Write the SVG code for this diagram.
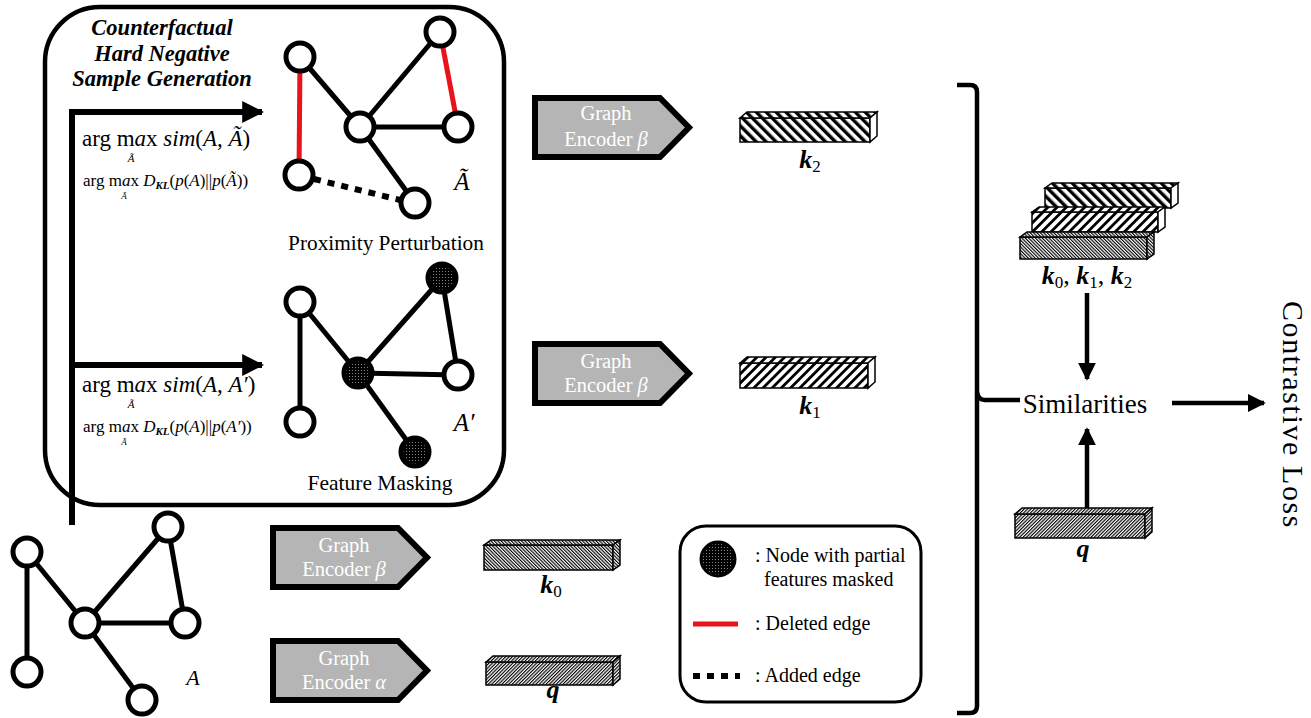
<svg xmlns="http://www.w3.org/2000/svg" width="1311" height="718" viewBox="0 0 1311 718">
  <style>
    .serif { font-family: "Liberation Serif", "Times New Roman", serif; }
    .edge { stroke: #000; stroke-width: 5; fill: none; }
    .del { stroke: #e8141a; stroke-width: 5; fill: none; }
    .add { stroke: #000; stroke-width: 6; stroke-dasharray: 7 7; fill: none; }
    .node { fill: #fff; stroke: #000; stroke-width: 5; }
    .mnode { fill: url(#dots); stroke: #000; stroke-width: 5; }
    .enc { fill: #b5b5b5; stroke: #000; stroke-width: 6; stroke-linejoin: miter; }
    .enct { font-family: "Liberation Serif", "Times New Roman", serif; font-size: 20.5px; fill: #fff; text-anchor: middle; }
    .bar { stroke: #000; stroke-width: 1.5; }
    .lbl { font-family: "Liberation Serif", "Times New Roman", serif; font-style: italic; font-weight: bold; font-size: 26px; text-anchor: middle; }
    .sub { font-style: normal; font-weight: normal; font-size: 17px; }
    .conn { stroke: #000; stroke-width: 6; fill: none; }
    .conn2 { stroke: #000; stroke-width: 4.5; fill: none; }
  </style>
  <defs>
    <pattern id="dots" patternUnits="userSpaceOnUse" width="3" height="3">
      <rect width="3" height="3" fill="#000"/>
      <circle cx="1.5" cy="1.5" r="0.55" fill="#9a9a9a"/>
    </pattern>
    <!-- coarse back-slash hatch -->
    <pattern id="hK2" patternUnits="userSpaceOnUse" width="7" height="7" patternTransform="rotate(-45)">
      <rect width="7" height="7" fill="#fff"/>
      <rect width="3.4" height="7" fill="#000"/>
    </pattern>
    <!-- coarse forward-slash hatch -->
    <pattern id="hK1" patternUnits="userSpaceOnUse" width="6.5" height="6.5" patternTransform="rotate(45)">
      <rect width="6.5" height="6.5" fill="#fff"/>
      <rect width="2.8" height="6.5" fill="#000"/>
    </pattern>
    <!-- fine back-slash hatch -->
    <pattern id="hK0" patternUnits="userSpaceOnUse" width="2.4" height="2.4" patternTransform="rotate(-45)">
      <rect width="2.4" height="2.4" fill="#fff"/>
      <rect width="1.15" height="2.4" fill="#000"/>
    </pattern>
    <!-- fine forward-slash hatch -->
    <pattern id="hQ" patternUnits="userSpaceOnUse" width="2.4" height="2.4" patternTransform="rotate(45)">
      <rect width="2.4" height="2.4" fill="#fff"/>
      <rect width="1.15" height="2.4" fill="#000"/>
    </pattern>
    <marker id="ah" viewBox="0 0 10 10" refX="9" refY="5" markerUnits="userSpaceOnUse" markerWidth="22" markerHeight="22" orient="auto">
      <path d="M0,0 L10,5 L0,10 Z" fill="#000"/>
    </marker>
    <marker id="ah2" viewBox="0 0 10 10" refX="9" refY="5" markerUnits="userSpaceOnUse" markerWidth="18" markerHeight="20" orient="auto">
      <path d="M0,0 L10,5 L0,10 Z" fill="#000"/>
    </marker>
    <path id="encShape" d="M3,3 H128 L157,32.5 L128,62 H3 Z"/>
  </defs>

  <rect width="1311" height="718" fill="#fff"/>

  <!-- generation panel -->
  <g id="generation-panel">
    <rect x="45" y="7" width="459" height="498" rx="55" ry="55" fill="none" stroke="#000" stroke-width="4.5"/>
    <text class="serif" x="162" y="35" font-size="22.5" font-weight="bold" font-style="italic" text-anchor="middle">Counterfactual</text>
    <text class="serif" x="162" y="61" font-size="22.5" font-weight="bold" font-style="italic" text-anchor="middle">Hard Negative</text>
    <text class="serif" x="162" y="86" font-size="22.5" font-weight="bold" font-style="italic" text-anchor="middle">Sample Generation</text>

    <!-- objective for proximity perturbation -->
    <text class="serif" x="82" y="146" font-size="23">arg m<tspan font-style="italic">a</tspan>x <tspan font-style="italic">sim</tspan>(<tspan font-style="italic">A</tspan>, <tspan font-style="italic">Ã</tspan>)</text>
    <text class="serif" x="131" y="162" font-size="11" font-style="italic" text-anchor="middle">Ã</text>
    <text class="serif" x="83" y="186" font-size="17">arg m<tspan font-style="italic">a</tspan>x <tspan font-style="italic">D</tspan><tspan font-size="11" font-weight="bold" font-style="italic" dy="3">KL</tspan><tspan dy="-3">(</tspan><tspan font-style="italic">p</tspan>(<tspan font-style="italic">A</tspan>)||<tspan font-style="italic">p</tspan>(<tspan font-style="italic">Ã</tspan>))</text>
    <text class="serif" x="124" y="199" font-size="9" font-style="italic" text-anchor="middle">Ã</text>

    <!-- objective for feature masking -->
    <text class="serif" x="82" y="392" font-size="23">arg m<tspan font-style="italic">a</tspan>x <tspan font-style="italic">sim</tspan>(<tspan font-style="italic">A</tspan>, <tspan font-style="italic">A′</tspan>)</text>
    <text class="serif" x="131" y="408" font-size="11" font-style="italic" text-anchor="middle">Ã</text>
    <text class="serif" x="83" y="432" font-size="17">arg m<tspan font-style="italic">a</tspan>x <tspan font-style="italic">D</tspan><tspan font-size="11" font-weight="bold" font-style="italic" dy="3">KL</tspan><tspan dy="-3">(</tspan><tspan font-style="italic">p</tspan>(<tspan font-style="italic">A</tspan>)||<tspan font-style="italic">p</tspan>(<tspan font-style="italic">A′</tspan>))</text>
    <text class="serif" x="124" y="445" font-size="9" font-style="italic" text-anchor="middle">Ã</text>
  </g>

  <!-- perturbed graph Ã -->
  <g id="graph-proximity">
    <line class="edge" x1="300" y1="57" x2="360" y2="127"/>
    <line class="edge" x1="360" y1="127" x2="440" y2="32"/>
    <line class="edge" x1="360" y1="127" x2="458" y2="127"/>
    <line class="edge" x1="360" y1="127" x2="415" y2="203"/>
    <line class="del" x1="300" y1="57" x2="299" y2="175"/>
    <line class="del" x1="440" y1="32" x2="458" y2="127"/>
    <line class="add" x1="314" y1="179" x2="400" y2="200"/>
    <circle class="node" cx="300" cy="57" r="14"/>
    <circle class="node" cx="440" cy="32" r="14"/>
    <circle class="node" cx="360" cy="127" r="14"/>
    <circle class="node" cx="458" cy="127" r="14"/>
    <circle class="node" cx="299" cy="175" r="14"/>
    <circle class="node" cx="415" cy="203" r="14"/>
    <text class="serif" x="462" y="190" font-size="25" font-style="italic" text-anchor="middle">Ã</text>
    <text class="serif" x="386" y="250" font-size="21.3" text-anchor="middle">Proximity Perturbation</text>
  </g>

  <!-- masked graph A′ -->
  <g id="graph-masking">
    <line class="edge" x1="300" y1="302" x2="300" y2="422"/>
    <line class="edge" x1="300" y1="302" x2="358" y2="373"/>
    <line class="edge" x1="358" y1="373" x2="442" y2="278"/>
    <line class="edge" x1="442" y1="278" x2="458" y2="375"/>
    <line class="edge" x1="358" y1="373" x2="458" y2="375"/>
    <line class="edge" x1="358" y1="373" x2="415" y2="452"/>
    <circle class="node" cx="300" cy="302" r="14"/>
    <circle class="mnode" cx="442" cy="278" r="14"/>
    <circle class="mnode" cx="358" cy="373" r="14"/>
    <circle class="node" cx="458" cy="375" r="14"/>
    <circle class="node" cx="300" cy="422" r="14"/>
    <circle class="mnode" cx="415" cy="452" r="14"/>
    <text class="serif" x="464" y="431" font-size="25" font-style="italic" text-anchor="middle">A′</text>
    <text class="serif" x="380" y="490" font-size="21.5" text-anchor="middle">Feature Masking</text>
  </g>

  <!-- input graph A -->
  <g id="graph-input">
    <line class="edge" x1="27" y1="552" x2="27" y2="672"/>
    <line class="edge" x1="27" y1="552" x2="85" y2="623"/>
    <line class="edge" x1="85" y1="623" x2="168" y2="527"/>
    <line class="edge" x1="168" y1="527" x2="185" y2="623"/>
    <line class="edge" x1="85" y1="623" x2="185" y2="623"/>
    <line class="edge" x1="85" y1="623" x2="142" y2="700"/>
    <circle class="node" cx="27" cy="552" r="14"/>
    <circle class="node" cx="168" cy="527" r="14"/>
    <circle class="node" cx="85" cy="623" r="14"/>
    <circle class="node" cx="185" cy="623" r="14"/>
    <circle class="node" cx="27" cy="672" r="14"/>
    <circle class="node" cx="142" cy="700" r="14"/>
    <text class="serif" x="193" y="685" font-size="22" font-style="italic" text-anchor="middle">A</text>
  </g>

  <!-- encoders -->
  <g id="encoder-k2" transform="translate(532,95)">
    <use href="#encShape" class="enc"/>
    <text class="enct" x="74" y="25">Graph</text>
    <text class="enct" x="74" y="51">Encoder <tspan font-style="italic">β</tspan></text>
  </g>
  <g id="encoder-k1" transform="translate(532,341)">
    <use href="#encShape" class="enc"/>
    <text class="enct" x="74" y="27">Graph</text>
    <text class="enct" x="74" y="51">Encoder <tspan font-style="italic">β</tspan></text>
  </g>
  <g id="encoder-k0" transform="translate(270,525)">
    <use href="#encShape" class="enc"/>
    <text class="enct" x="74" y="27">Graph</text>
    <text class="enct" x="74" y="51">Encoder <tspan font-style="italic">β</tspan></text>
  </g>
  <g id="encoder-q" transform="translate(270,638)">
    <use href="#encShape" class="enc"/>
    <text class="enct" x="74" y="27">Graph</text>
    <text class="enct" x="74" y="51">Encoder <tspan font-style="italic">α</tspan></text>
  </g>

  <!-- embeddings -->
  <g id="emb-k2" transform="translate(740,118)">
    <rect class="bar" width="130" height="24" fill="url(#hK2)"/>
    <path class="bar" d="M0,0 L7,-6 H137 L130,0 Z" fill="url(#hK2)"/>
    <path class="bar" d="M130,0 L137,-6 V18 L130,24 Z" fill="#fff"/>
    <text class="lbl" x="70" y="50">k<tspan class="sub" dy="4">2</tspan></text>
  </g>
  <g id="emb-k1" transform="translate(740,363)">
    <rect class="bar" width="128" height="25" fill="url(#hK1)"/>
    <path class="bar" d="M0,0 L7,-6 H135 L128,0 Z" fill="url(#hK1)"/>
    <path class="bar" d="M128,0 L135,-6 V19 L128,25 Z" fill="#fff"/>
    <text class="lbl" x="70" y="51">k<tspan class="sub" dy="4">1</tspan></text>
  </g>
  <g id="emb-k0" transform="translate(484,545)">
    <rect class="bar" width="129" height="25" fill="url(#hK0)"/>
    <path class="bar" d="M0,0 L7,-5 H136 L129,0 Z" fill="url(#hK0)"/>
    <path class="bar" d="M129,0 L136,-5 V20 L129,25 Z" fill="url(#hK0)"/>
    <text class="lbl" x="67" y="48">k<tspan class="sub" dy="4">0</tspan></text>
  </g>
  <g id="emb-q" transform="translate(486,662)">
    <rect class="bar" width="127" height="23" fill="url(#hQ)"/>
    <path class="bar" d="M0,0 L7,-6 H134 L127,0 Z" fill="url(#hQ)"/>
    <path class="bar" d="M127,0 L134,-6 V17 L127,23 Z" fill="url(#hQ)"/>
    <text class="lbl" x="67" y="36">q</text>
  </g>

  <!-- stacked keys -->
  <g id="emb-keys">
    <g transform="translate(1045,188)">
      <rect class="bar" width="126" height="20" fill="url(#hK2)"/>
      <path class="bar" d="M0,0 L7,-5 H133 L126,0 Z" fill="url(#hK2)"/>
      <path class="bar" d="M126,0 L133,-5 V15 L126,20 Z" fill="#fff"/>
    </g>
    <g transform="translate(1032,212)">
      <rect class="bar" width="126" height="20" fill="url(#hK1)"/>
      <path class="bar" d="M0,0 L7,-5 H133 L126,0 Z" fill="url(#hK1)"/>
      <path class="bar" d="M126,0 L133,-5 V15 L126,20 Z" fill="#fff"/>
    </g>
    <g transform="translate(1020,237)">
      <rect class="bar" width="127" height="22" fill="url(#hK0)"/>
      <path class="bar" d="M0,0 L7,-5 H134 L127,0 Z" fill="url(#hK0)"/>
      <path class="bar" d="M127,0 L134,-5 V17 L127,22 Z" fill="url(#hK0)"/>
    </g>
    <text class="lbl" x="1087" y="284" font-size="24">k<tspan class="sub" dy="4" font-size="16">0</tspan><tspan font-style="normal" font-weight="normal" dy="-4">, </tspan>k<tspan class="sub" dy="4" font-size="16">1</tspan><tspan font-style="normal" font-weight="normal" dy="-4">, </tspan>k<tspan class="sub" dy="4" font-size="16">2</tspan></text>
  </g>
  <g id="emb-q-right" transform="translate(1015,514)">
    <rect class="bar" width="130" height="24" fill="url(#hQ)"/>
    <path class="bar" d="M0,0 L7,-6 H137 L130,0 Z" fill="url(#hQ)"/>
    <path class="bar" d="M130,0 L137,-6 V18 L130,24 Z" fill="url(#hQ)"/>
    <text class="lbl" x="68" y="43">q</text>
  </g>

  <g id="similarities">
    <text class="serif" x="1085" y="413" font-size="27" text-anchor="middle">Similarities</text>
  </g>
  <g id="contrastive-loss">
    <text class="serif" x="0" y="0" font-size="30" letter-spacing="1.6" text-anchor="middle" transform="translate(1283,415) rotate(90)">Contrastive Loss</text>
  </g>

  <!-- legend -->
  <g id="legend">
    <rect x="680" y="526" width="241" height="176" rx="26" ry="26" fill="none" stroke="#000" stroke-width="3"/>
    <circle cx="718" cy="559" r="17" fill="url(#dots)" stroke="#000" stroke-width="3"/>
    <text class="serif" x="755" y="562" font-size="20">: Node with partial</text>
    <text class="serif" x="764" y="586" font-size="20">features masked</text>
    <line class="del" x1="693" y1="624" x2="738" y2="624" stroke-width="6"/>
    <text class="serif" x="755" y="630" font-size="20">: Deleted edge</text>
    <line class="add" x1="693" y1="676" x2="740" y2="676" stroke-dasharray="6 7"/>
    <text class="serif" x="755" y="682" font-size="20">: Added edge</text>
  </g>

  <!-- connectors -->
  <g id="connectors">
    <path class="conn" d="M72,525 V112 H262" marker-end="url(#ah)"/>
    <path class="conn" d="M72,365 H262" marker-end="url(#ah)"/>
    <path class="conn2" d="M957,85 H970 Q977,85 977,92 V706 Q977,713 970,713 H957" stroke-width="5"/>
    <path class="conn2" d="M977,392 Q978,400 985,400 H1020"/>
    <path class="conn2" d="M1087,293 V379" marker-end="url(#ah2)"/>
    <path class="conn2" d="M1087,508 V429" marker-end="url(#ah2)"/>
    <path class="conn2" d="M1172,403 H1264" marker-end="url(#ah2)"/>
  </g>
</svg>
